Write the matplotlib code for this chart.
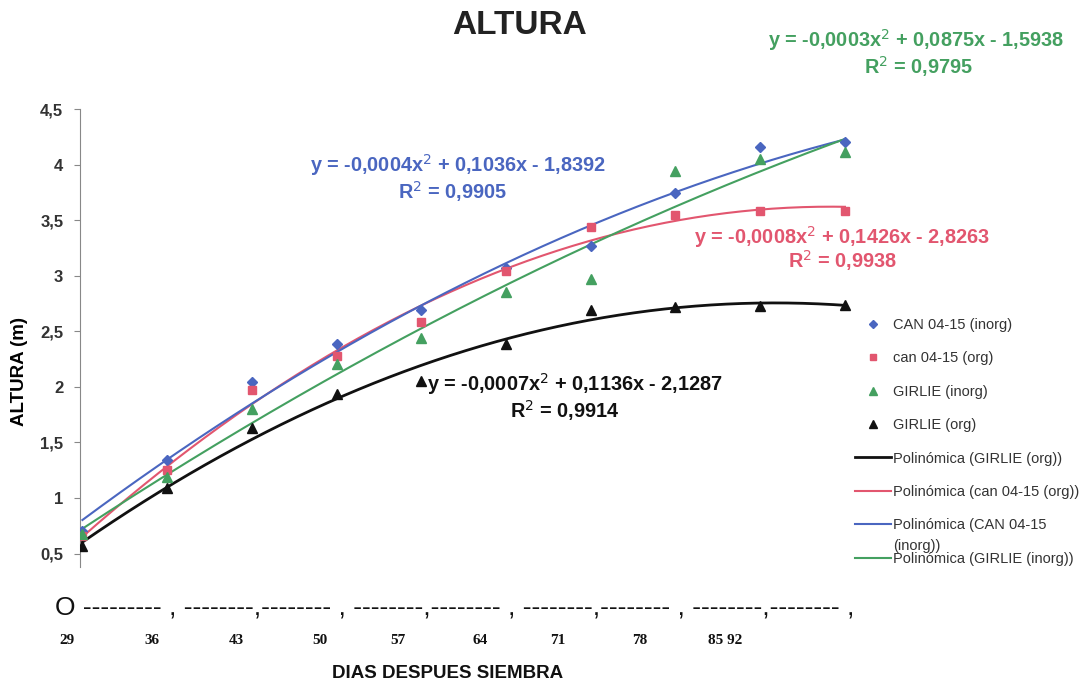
import numpy as np
import matplotlib
matplotlib.use("Agg")
import matplotlib.pyplot as plt

plt.rcParams['font.family'] = ['Liberation Sans', 'DejaVu Sans']

# days after sowing
dias = [29, 36, 43, 50, 57, 64, 71, 78, 85, 92]

can_inorg = [0.70, 1.34, 2.04, 2.39, 2.69, 3.07, 3.27, 3.74, 4.16, 4.20]
can_org = [0.66, 1.25, 1.97, 2.28, 2.58, 3.04, 3.44, 3.55, 3.58, 3.58]
girlie_inorg = [0.68, 1.19, 1.80, 2.21, 2.44, 2.85, 2.97, 3.94, 4.05, 4.11]
girlie_org = [0.57, 1.09, 1.63, 1.94, 2.05, 2.39, 2.69, 2.72, 2.73, 2.74]

y_ticks = [0.5, 1, 1.5, 2, 2.5, 3, 3.5, 4, 4.5]
y_ticklabels = ['0,5', '1', '1,5', '2', '2,5', '3', '3,5', '4', '4,5']
x_labels = ['29', '36', '43', '50', '57', '64', '71', '78', '85 92']
x_label_px = [67, 152, 236, 320, 398, 480, 558, 640, 725]

eq_blue = ['y = -0,0004x$^2$ + 0,1036x - 1,8392', 'R$^2$ = 0,9905']
eq_red = ['y = -0,0008x$^2$ + 0,1426x - 2,8263', 'R$^2$ = 0,9938']
eq_green = ['y = -0,0003x$^2$ + 0,0875x - 1,5938', 'R$^2$ = 0,9795']
eq_black = ['y = -0,0007x$^2$ + 0,1136x - 2,1287', 'R$^2$ = 0,9914']

c_blue = '#4a66c0'
c_red = '#e2566f'
c_green = '#44a060'
c_black = '#111111'

W, H = 1088, 686
fig = plt.figure(figsize=(W / 100, H / 100), dpi=100)
ax = fig.add_axes([80 / W, 1 - 567 / H, 771 / W, 458 / H])


def fx(px):
    return px / W


def fy(py):
    return 1 - py / H


x = np.array(dias, dtype=float)
xs = np.linspace(x.min(), x.max(), 200)

series = [
    (can_inorg, 'D', c_blue, 5.5, 'CAN 04-15 (inorg)'),
    (can_org, 's', c_red, 5.5, 'can 04-15 (org)'),
    (girlie_inorg, '^', c_green, 6.5, 'GIRLIE (inorg)'),
    (girlie_org, '^', c_black, 6.5, 'GIRLIE (org)'),
]
pts = []
for vals, mk, col, ms, lab in series:
    h, = ax.plot(dias, vals, linestyle='none', marker=mk, color=col,
                 markersize=ms, label=lab, zorder=4)
    pts.append(h)

# quadratic trendlines
trends = [
    (girlie_org, c_black, 2.0, 'Polinómica (GIRLIE (org))'),
    (can_org, c_red, 1.5, 'Polinómica (can 04-15 (org))'),
    (can_inorg, c_blue, 1.5, 'Polinómica (CAN 04-15'),
    (girlie_inorg, c_green, 1.5, 'Polinómica (GIRLIE (inorg))'),
]
lines = []
for vals, col, lw, lab in trends:
    p = np.polyfit(x, vals, 2)
    h, = ax.plot(xs, np.polyval(p, xs), color=col, linewidth=lw, label=lab, zorder=3)
    lines.append(h)

ax.set_xlim(28.8, 92.5)
ax.set_ylim(0.38, 4.5)
ax.set_yticks(y_ticks)
ax.set_yticklabels(y_ticklabels, fontsize=12, fontweight='bold', color='#333333')
ax.set_xticks([])
for s in ['top', 'right', 'bottom']:
    ax.spines[s].set_visible(False)
ax.spines['left'].set_color('#888888')
ax.tick_params(axis='y', direction='out', length=4, color='#888888', pad=8)
ax.set_ylabel('ALTURA (m)', fontsize=13.5, fontweight='bold')
ax.yaxis.set_label_coords(-0.067, 0.426)

fig.text(fx(520), fy(25), 'ALTURA', fontsize=24, fontweight='bold',
         ha='center', va='center', color='#222222')

# trendline equations
eq_fs = 14.3
fig.text(fx(310), fy(165), eq_blue[0], fontsize=eq_fs, fontweight='bold', color=c_blue, va='center')
fig.text(fx(398), fy(192), eq_blue[1], fontsize=eq_fs, fontweight='bold', color=c_blue, va='center')
fig.text(fx(694), fy(237), eq_red[0], fontsize=eq_fs, fontweight='bold', color=c_red, va='center')
fig.text(fx(788), fy(261), eq_red[1], fontsize=eq_fs, fontweight='bold', color=c_red, va='center')
fig.text(fx(768), fy(40), eq_green[0], fontsize=eq_fs, fontweight='bold', color=c_green, va='center')
fig.text(fx(864), fy(67), eq_green[1], fontsize=eq_fs, fontweight='bold', color=c_green, va='center')
fig.text(fx(427), fy(384), eq_black[0], fontsize=eq_fs, fontweight='bold', color=c_black, va='center')
fig.text(fx(510), fy(411), eq_black[1], fontsize=eq_fs, fontweight='bold', color=c_black, va='center')

leg = fig.legend(handles=pts + lines, loc='upper left',
                 bbox_to_anchor=(fx(855), fy(318)), frameon=False,
                 fontsize=10.5, labelspacing=1.33, handlelength=2.45,
                 handletextpad=0.15, borderaxespad=0, borderpad=0, markerscale=0.8)
for t in leg.get_texts():
    t.set_color('#333333')
# wrapped end of the blue trendline label
fig.text(fx(893), fy(546), '(inorg))', fontsize=10.5, color='#333333', va='center')

# the scanned x axis row
dashes = ('O --------- , --------,-------- , --------,-------- , '
          '--------,-------- , --------,-------- ,')
fig.text(fx(55), fy(608), dashes, fontsize=19, ha='left', va='center', color='#111111')
for lab, px in zip(x_labels, x_label_px):
    fig.text(fx(px), fy(641), lab, fontsize=11, fontweight='bold', family='Liberation Serif',
             ha='center', va='center', color='#111111')
fig.text(fx(448), fy(673), 'DIAS DESPUES SIEMBRA', fontsize=13.5, fontweight='bold',
         ha='center', va='center', color='#111111')

fig.savefig('out.png', dpi=100)
